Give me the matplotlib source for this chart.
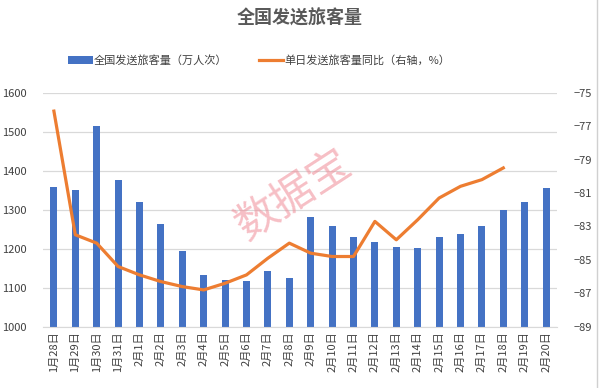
import numpy as np
import matplotlib.pyplot as plt

plt.rcParams['font.family'] = ['Noto Sans CJK SC', 'DejaVu Sans']

# dates, passenger volume (10k trips), y/y change (%)
dates = ['1月28日', '1月29日', '1月30日', '1月31日', '2月1日', '2月2日', '2月3日', '2月4日',
         '2月5日', '2月6日', '2月7日', '2月8日', '2月9日', '2月10日', '2月11日', '2月12日',
         '2月13日', '2月14日', '2月15日', '2月16日', '2月17日', '2月18日', '2月19日', '2月20日']
volume = [1359, 1351, 1515, 1376, 1320, 1263, 1194, 1132, 1121, 1118, 1142, 1125,
          1281, 1259, 1231, 1216, 1205, 1203, 1229, 1238, 1258, 1300, 1321, 1356]
yoy = [-76.1, -83.5, -84.0, -85.4, -85.9, -86.3, -86.6, -86.8, -86.4, -85.9, -84.9, -84.0,
       -84.6, -84.8, -84.8, -82.7, -83.8, -82.6, -81.3, -80.6, -80.2, -79.5]

blue = '#4472C4'
orange = '#ED7D31'
x = np.arange(len(dates))

fig = plt.figure(figsize=(6, 3.88), dpi=100)
ax = fig.add_axes([0.072, 0.158, 0.856, 0.603])
ax2 = ax.twinx()

ax.set_axisbelow(True)
ax.grid(axis='y', color='#D9D9D9', linewidth=0.9)
bars = ax.bar(x, volume, width=0.32, color=blue, label='全国发送旅客量（万人次）')
line, = ax2.plot(x[:len(yoy)], yoy, color=orange, linewidth=2.3,
                 label='单日发送旅客量同比（右轴，%）')

ax.set_ylim(1000, 1600)
ax.set_yticks(range(1000, 1601, 100))
ax2.set_ylim(-89, -75)
ax2.set_yticks(range(-89, -74, 2))
ax.set_xlim(-0.5, len(dates) - 0.5)
ax.set_xticks(x)
ax.set_xticklabels(dates, rotation=90, fontsize=7.5, color='#404040')

for a in (ax, ax2):
    for s in a.spines.values():
        s.set_visible(False)
    a.tick_params(length=0, labelsize=8, colors='#404040')
ax.spines['bottom'].set_visible(True)
ax.spines['bottom'].set_color('#D9D9D9')
ax.tick_params(axis='y', pad=12)
ax2.tick_params(axis='y', pad=12)

fig.text(0.5, 0.953, '全国发送旅客量', ha='center', va='center',
         fontsize=13, fontweight='bold', color='#595959')
fig.legend(handles=[bars, line], loc='center', bbox_to_anchor=(0.432, 0.845),
           ncol=2, frameon=False, fontsize=8, handlelength=2.2, columnspacing=2.8,
           handletextpad=0.1, labelcolor='#404040')

fig.text(0.49, 0.495, '数据宝', ha='center', va='center', rotation=33,
         fontsize=31, color='#F08A96', alpha=0.55)

fig.add_artist(plt.Line2D([0.995, 0.995], [0, 1], color='#D0D0D0', linewidth=1))

fig.savefig('out.png', dpi=100)
